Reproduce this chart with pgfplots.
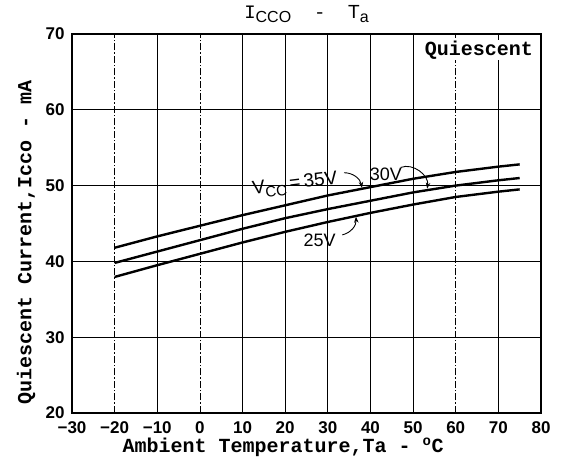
\documentclass[border=0pt]{standalone}
\usepackage{fontspec}
\setmainfont{Liberation Sans}
\newfontfamily\monofont{Liberation Mono}
\usepackage{pgfplots}
\pgfplotsset{compat=1.18}
\usetikzlibrary{arrows.meta}

\begin{document}
\begin{tikzpicture}
\begin{axis}[
  width=469pt, height=379pt, scale only axis,
  xmin=-30, xmax=80, ymin=20, ymax=70,
  xtick={-30,-10,10,20,30,40,50,70,80},
  xticklabels={−30,−10,10,20,30,40,50,70,80},
  extra x ticks={-20,0,60},
  extra x tick labels={−20,0,60},
  extra x tick style={grid=major,
    major grid style={black, line width=0.7pt, dash pattern=on 7pt off 2pt on 1.5pt off 2pt}},
  ytick={20,30,40,50,60,70},
  yticklabels={20,30,40,50,60,70},
  grid=major,
  major grid style={black, line width=0.7pt},
  major tick length=0pt,
  axis line style={line width=1.3pt},
  ticklabel style={font=\fontsize{17}{17}\selectfont\bfseries},
  yticklabel style={xshift=-4pt},
  xticklabel style={yshift=-5pt},
  xlabel={\monofont\bfseries Ambient Temperature,Ta - \textsuperscript{o}C},
  xlabel style={font=\fontsize{20}{20}\selectfont, at={(axis description cs:0.45,-0.09)}, anchor=center},
  ylabel={\monofont\bfseries Quiescent Current,Icco - mA},
  ylabel style={font=\fontsize{20}{20}\selectfont, at={(axis description cs:-0.098,0.449)}, anchor=center, rotate=0},
  title={\monofont I\raisebox{-4pt}{\fontfamily{\rmdefault}\fontsize{16}{16}\selectfont CCO}~~-~~\rmfamily T\raisebox{-4pt}{\fontsize{16}{16}\selectfont a}},
  title style={font=\fontsize{19}{19}\selectfont, at={(axis description cs:0.5,1)}, anchor=south, yshift=2pt},
  clip=false,
]
% Vcc = 35 V
\addplot[black, line width=2.4pt] coordinates {
(-20,41.8) (-10,43.3) (0,44.7) (10,46.1) (20,47.4) (30,48.7)
(40,49.8) (50,50.9) (60,51.8) (70,52.5) (75,52.8)
};
% Vcc = 30 V
\addplot[black, line width=2.4pt] coordinates {
(-20,39.8) (-10,41.3) (0,42.8) (10,44.3) (20,45.7) (30,46.9)
(40,48.0) (50,49.1) (60,50.0) (70,50.7) (75,51.0)
};
% Vcc = 25 V
\addplot[black, line width=2.4pt] coordinates {
(-20,37.95) (-10,39.5) (0,41.0) (10,42.5) (20,43.9) (30,45.2)
(40,46.4) (50,47.5) (60,48.5) (70,49.2) (75,49.5)
};

\node[fill=white, inner sep=1pt, anchor=east, font=\monofont\bfseries\fontsize{20}{20}\selectfont]
  at (axis description cs:0.985,0.958) {Quiescent};

\node[font=\fontsize{19}{19}\selectfont, rotate=7, inner sep=1pt] at (axis cs:22.3,50.1)
  {V\raisebox{-5pt}{\fontsize{15}{15}\selectfont CC}\,=\,35V};
\node[font=\fontsize{18}{18}\selectfont, inner sep=1pt] at (axis cs:43.6,51.55) {30V};
\node[font=\fontsize{18}{18}\selectfont, inner sep=1pt] at (axis cs:28.1,42.8) {25V};

\draw[-{Stealth[length=6pt]}, line width=0.9pt] (axis cs:33.8,51.7) to[bend left=40] (axis cs:38,49.7);
\draw[-{Stealth[length=6pt]}, line width=0.9pt] (axis cs:47.1,52.4) to[bend left=60] (axis cs:53.3,49.6);
\draw[-{Stealth[length=6pt]}, line width=0.9pt] (axis cs:33.4,43.5) to[bend right=40] (axis cs:36.6,45.9);
\end{axis}
\pgfresetboundingbox
\path[use as bounding box] (current axis.south west) ++(-72pt,-57pt) rectangle ++(561pt,470pt);
\end{tikzpicture}
\end{document}
